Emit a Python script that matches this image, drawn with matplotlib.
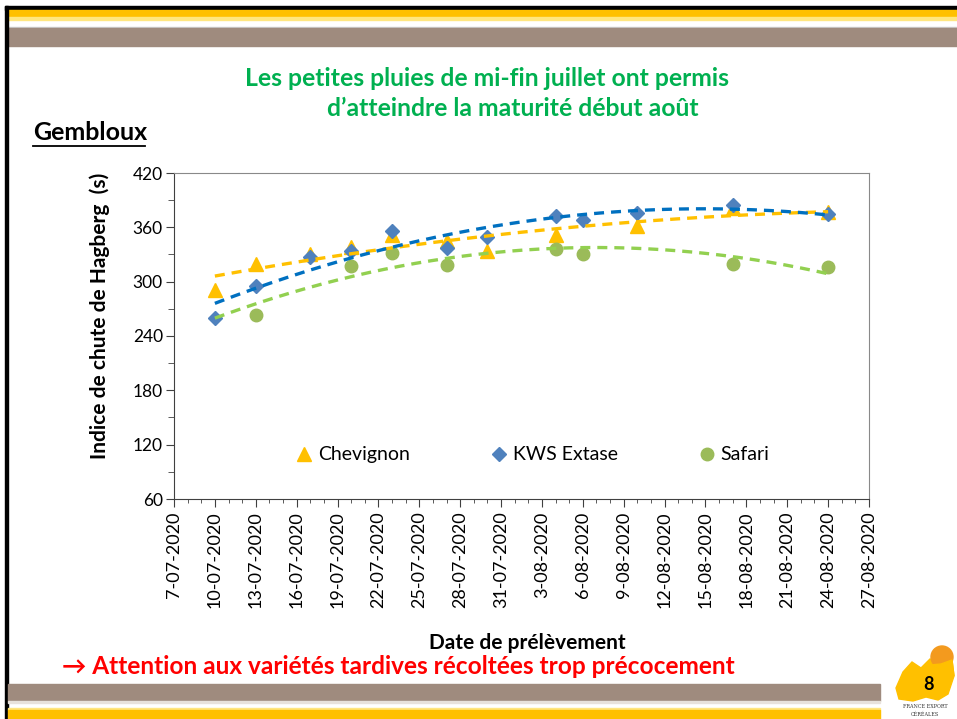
import numpy as np
import matplotlib
matplotlib.use("Agg")
import matplotlib.pyplot as plt
import matplotlib.dates as mdates
from matplotlib.patches import Rectangle, Circle, Polygon
from matplotlib.lines import Line2D
from matplotlib.ticker import FixedLocator, MultipleLocator, FuncFormatter

plt.rcParams["font.family"] = ["Lato", "DejaVu Sans"]

# data
chev_dates = ["2020-07-10", "2020-07-13", "2020-07-17", "2020-07-20", "2020-07-23",
              "2020-07-27", "2020-07-30", "2020-08-04", "2020-08-10", "2020-08-17", "2020-08-24"]
chev_vals = [291, 320, 331, 338, 352, 345, 334, 352, 362, 381, 377]

kws_dates = ["2020-07-10", "2020-07-13", "2020-07-17", "2020-07-20", "2020-07-23", "2020-07-27",
             "2020-07-30", "2020-08-04", "2020-08-06", "2020-08-10", "2020-08-17", "2020-08-24"]
kws_vals = [260, 295, 327, 334, 356, 337, 349, 373, 368, 376, 385, 375]

safari_dates = ["2020-07-13", "2020-07-20", "2020-07-23", "2020-07-27",
                "2020-08-04", "2020-08-06", "2020-08-17", "2020-08-24"]
safari_vals = [263, 317, 332, 318, 336, 331, 320, 316]

series_names = ["Chevignon", "KWS Extase", "Safari"]
marker_colors = ["#FFC000", "#4F81BD", "#9BBB59"]
trend_colors = ["#FFC000", "#0070C0", "#92D050"]
markers = ["^", "D", "o"]
marker_sizes = [10, 7, 9]

x_start, x_end = "2020-07-07", "2020-08-27"
trend_start, trend_end = "2020-07-10", "2020-08-24"

W, H = 957, 719
fig = plt.figure(figsize=(W / 100, H / 100), dpi=100)

# slide decoration (pixel coordinates)
deco = fig.add_axes([0, 0, 1, 1], zorder=-1)
deco.set_xlim(0, W)
deco.set_ylim(H, 0)
deco.axis("off")
deco.add_patch(Rectangle((5, 6), W, 4, color="black"))
deco.add_patch(Rectangle((8, 10), W, 7, color="#FFC000"))
deco.add_patch(Rectangle((8, 17), W, 3, color="#FFE680"))
deco.add_patch(Rectangle((8, 27), W, 1, color="#CFCFCF"))
deco.add_patch(Rectangle((8, 28), W, 18, color="#9F8B7E"))
deco.add_patch(Rectangle((5, 6), 3, H, color="black"))
deco.add_patch(Rectangle((8, 684), 872, 17, color="#9F8B7E"))
deco.add_patch(Rectangle((8, 701), 872, 2, color="#E8E2DC"))
deco.add_patch(Rectangle((8, 708), 872, 2, color="#FFE680"))
deco.add_patch(Rectangle((8, 710), 872, 9, color="#FFC000"))

# logo
deco.add_patch(Polygon([(899, 699), (896, 688), (903, 672), (912, 662), (921, 668), (930, 659),
                        (941, 664), (952, 660), (954, 676), (948, 694), (938, 700), (926, 697),
                        (913, 701)], closed=True, color="#FFC000"))
deco.add_patch(Circle((942, 657), 11, color="#F39A1E"))
deco.add_patch(Polygon([(930, 665), (941, 664), (952, 660), (954, 676), (946, 672)],
                       closed=True, color="#FFC000"))
deco.text(929, 685, "8", ha="center", va="center", fontsize=13, fontweight="bold", color="black")
deco.text(925, 707, "FRANCE EXPORT", ha="center", va="center", fontsize=3.5,
          family="DejaVu Serif", color="#333333")
deco.text(925, 714, "CÉRÉALES", ha="center", va="center", fontsize=3.5,
          family="DejaVu Serif", color="#333333")

# slide texts
deco.text(487, 78, "Les petites pluies de mi-fin juillet ont permis", ha="center", va="center",
          fontsize=17.8, fontweight="bold", color="#00B050")
deco.text(513, 108, "d’atteindre la maturité début août", ha="center", va="center",
          fontsize=17.8, fontweight="bold", color="#00B050")
deco.text(33, 133, "Gembloux", ha="left", va="center", fontsize=18, fontweight="bold", color="black")
deco.plot([33, 145], [146, 146], color="black", lw=1.3)
deco.text(62, 666, "→ Attention aux variétés tardives récoltées trop précocement", ha="left",
          va="center", fontsize=17.6, fontweight="bold", color="#FF0000")

# chart
ax = fig.add_axes([174 / W, 1 - 499 / H, (869 - 174) / W, (499 - 173) / H])

all_dates = [chev_dates, kws_dates, safari_dates]
all_vals = [chev_vals, kws_vals, safari_vals]
t0 = mdates.datestr2num(trend_start)
t1 = mdates.datestr2num(trend_end)
tx = np.linspace(t0, t1, 200)

handles = []
for dates, vals, name, mc, tc, mk, ms in zip(all_dates, all_vals, series_names, marker_colors,
                                             trend_colors, markers, marker_sizes):
    xd = mdates.datestr2num(dates)
    ax.plot(xd, vals, ls="none", marker=mk, ms=ms, color=mc, zorder=3)
    # Excel-style order 2 polynomial trendline
    coef = np.polyfit(xd - t0, vals, 2)
    ax.plot(tx, np.polyval(coef, tx - t0), color=tc, lw=2.4, dashes=(3, 2.1), zorder=4)
    handles.append(Line2D([], [], ls="none", marker=mk, ms=ms, color=mc, label=name))

xmin = mdates.datestr2num(x_start)
xmax = mdates.datestr2num(x_end)
ax.set_xlim(xmin, xmax)
ax.set_ylim(60, 420)
ax.xaxis.set_major_locator(FixedLocator(np.arange(xmin, xmax + 0.5, 3)))
ax.xaxis.set_minor_locator(FixedLocator(np.arange(xmin, xmax + 0.5, 1)))


def fmt_date(v, pos):
    d = mdates.num2date(v)
    return f"{d.day}-{d.month:02d}-{d.year}"


ax.xaxis.set_major_formatter(FuncFormatter(fmt_date))
ax.yaxis.set_major_locator(MultipleLocator(60))
ax.yaxis.set_minor_locator(MultipleLocator(30))
ax.tick_params(axis="x", which="major", labelrotation=90, labelsize=13, length=6,
               color="#404040", pad=3)
ax.tick_params(axis="x", which="minor", length=3, color="#404040")
ax.tick_params(axis="y", which="major", labelsize=12.5, length=6, color="#404040", pad=2)
ax.tick_params(axis="y", which="minor", length=4, color="#404040")
for side in ["top", "right"]:
    ax.spines[side].set_color("#898989")
for side in ["left", "bottom"]:
    ax.spines[side].set_color("#404040")

ax.set_xlabel("Date de prélèvement", fontsize=15, fontweight="bold")
ax.xaxis.set_label_coords(0.508, -0.41)
ax.set_ylabel("Indice de chute de Hagberg  (s)", fontsize=15, fontweight="bold")
ax.yaxis.set_label_coords(-0.092, 0.561)

ax.legend(handles=handles, ncol=3, frameon=False, loc="center left",
          bbox_to_anchor=(0.151, 0.135), fontsize=14, handlelength=0.8,
          handletextpad=0.3, columnspacing=4.2)

fig.savefig("out.png", dpi=100)
